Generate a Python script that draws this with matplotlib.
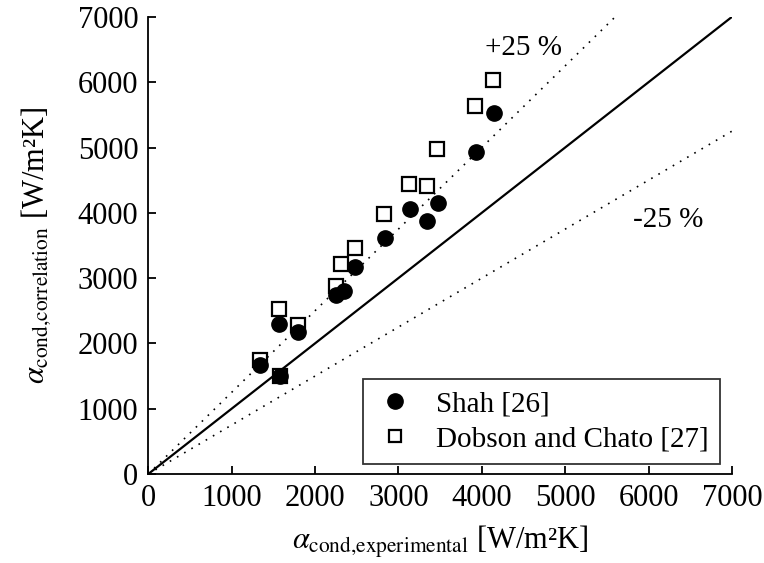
import matplotlib; matplotlib.use("Agg")
import matplotlib.pyplot as plt
import numpy as np

plt.rcParams.update({"font.family": "Liberation Serif", "mathtext.fontset": "stix",
                     "font.size": 21, "axes.linewidth": 1.3})

# Shah [26]
shah_x = [1335, 1583, 1567, 1791, 2254, 2342, 2482, 2842, 3141, 3341, 3473, 3929, 4141]
shah_y = [1669, 1500, 2292, 2180, 2741, 2807, 3175, 3609, 4058, 3879, 4145, 4936, 5524]
# Dobson and Chato [27]
dob_x = [1335, 1583, 1567, 1791, 2250, 2314, 2482, 2833, 3130, 3341, 3469, 3921, 4133]
dob_y = [1746, 1500, 2522, 2282, 2879, 3211, 3456, 3982, 4436, 4410, 4972, 5636, 6034]

ticks = np.arange(0, 7001, 1000)

fig = plt.figure(figsize=(7.64, 5.63), dpi=100)
ax = fig.add_axes([0.194, 0.158, 0.764, 0.812])

ax.plot([0, 7000], [0, 7000], color="black", lw=1.6, zorder=1)
ax.plot([0, 7000 / 1.25], [0, 7000], color="black", lw=1.2, ls=(0, (1, 4)), zorder=1)
ax.plot([0, 7000], [0, 7000 * 0.75], color="black", lw=1.2, ls=(0, (1, 4)), zorder=1)

ax.plot(dob_x, dob_y, ls="none", marker="s", ms=10.5, mfc="white", mec="black",
        mew=1.6, label="Dobson and Chato [27]", zorder=2)
ax.plot(shah_x, shah_y, ls="none", marker="o", ms=11, mfc="black", mec="black",
        label="Shah [26]", zorder=3)

ax.text(4500, 6520, "+25 %", ha="center", va="center", fontsize=21)
ax.text(6230, 3890, "-25 %", ha="center", va="center", fontsize=21)

ax.set_xlim(0, 7000); ax.set_ylim(0, 7000)
ax.set_xticks(ticks); ax.set_yticks(ticks)
ax.tick_params(direction="in", length=6, width=1.3, labelsize=22, pad=7)
for s in ["top", "right"]:
    ax.spines[s].set_visible(False)

ax.set_xlabel(r"$\alpha_{\mathrm{cond{,}experimental}}$ [W/m²K]", fontsize=22, labelpad=8)
ax.set_ylabel(r"$\alpha_{\mathrm{cond{,}correlation}}$ [W/m²K]", fontsize=22, labelpad=18)

h, l = ax.get_legend_handles_labels()
leg = ax.legend(h[::-1], l[::-1], loc="lower right", bbox_to_anchor=(0.98, 0.022),
                fontsize=21, frameon=True, fancybox=False, edgecolor="black",
                borderpad=0.4, handletextpad=0.7, labelspacing=0.3, handlelength=1.4,
                borderaxespad=0)
leg.get_frame().set_linewidth(1.3)
leg.legend_handles[1].set_markersize(8)

fig.savefig("out.png", dpi=100)
